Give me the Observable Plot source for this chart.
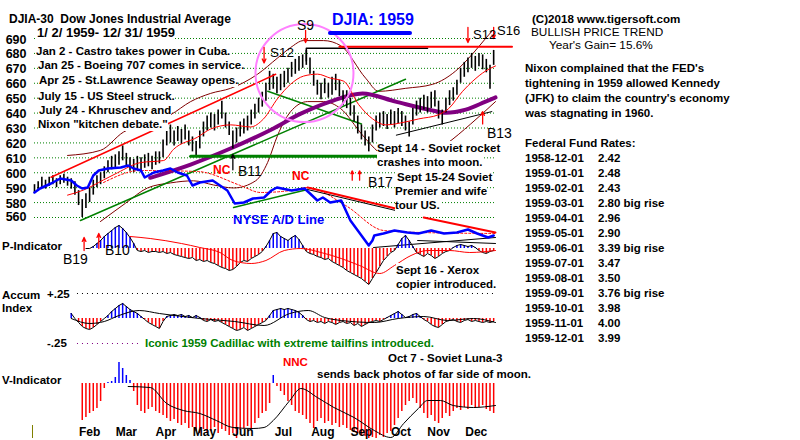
<!DOCTYPE html>
<html><head><meta charset="utf-8">
<script src="https://cdn.jsdelivr.net/npm/d3@7"></script>
<script src="https://cdn.jsdelivr.net/npm/@observablehq/plot@0.6"></script>
<style>
body{margin:0;background:#fff;}
#wrap{position:relative;width:800px;height:440px;overflow:hidden;background:#fff;font-family:"Liberation Sans",Arial,Helvetica,sans-serif;}
.t{position:absolute;white-space:pre;font-weight:bold;font-size:11.5px;line-height:14px;color:#000;}
</style></head><body><div id="wrap"></div>
<script>
// ---------------- DATA ----------------
const priceTicks = [690,680,670,660,650,640,630,620,610,600,590,580,570];
const priceTickLabels = ["690","680","670","660","650","640","630","620","610","600","590","580","560"];

// DJIA daily bars, every 2nd trading day of 1959 (trading day 0 = Jan 2)
const barLo = [586,588,590,589,591,592,590,592,593,591,
589,585,578,570,576,580,585,590,592,596,
600,602,603,605,608,604,601,600,602,600,
603,604,602,605,606,610,618,620,618,621,
619,622,618,614,611,616,624,628,630,628,
632,636,630,625,616,620,624,626,628,632,
636,640,644,648,655,656,653,655,657,660,
664,666,668,670,672,666,658,652,649,653,
650,652,655,651,645,643,638,634,626,622,
618,614,620,628,630,631,629,632,630,633,
631,628,624,632,638,640,642,640,643,644,
636,632,640,645,648,652,660,664,667,670,
668,671,669,667,656,672];
const barHi = [592,594,597,595,597,598,596,598,599,597,
596,594,588,582,586,590,595,598,600,604,
608,611,612,614,618,613,610,609,611,610,
612,613,611,614,614,622,630,632,628,631,
629,632,628,624,621,628,634,638,640,639,
642,648,640,634,628,630,634,636,638,642,
646,650,654,660,668,666,664,666,668,670,
674,676,678,679,682,677,668,662,660,663,
660,664,666,662,655,655,650,645,638,632,
628,624,632,638,640,641,639,642,641,643,
641,638,634,643,648,650,652,651,654,655,
648,642,650,655,657,662,670,674,677,680,
678,680,679,676,672,682];

// moving averages / bands  [trading day, DJIA]
const purpleMA = [[63,596.6],[85,605.5],[107,616.4],[128.5,628.7],[145,639.6],[161,647.7],[178.6,653.2],[196.6,647.7],[214.6,642.3],[224,640.2],[234.8,642.3],[245.6,647.7],[251,650.5]];
const redMA = [[18,585],[26.7,588.4],[37.6,595.2],[45.2,600],[57.7,606.8],[70.3,608.2],[75.7,615.7],[88.8,623.9],[95.9,629.3],[106.8,632.1],[117.6,630.7],[124.7,636.1],[132.4,649.8],[139.4,659.3],[146.5,664.8],[154.1,666.1],[161.2,663.4],[168.3,661.4],[176.5,645.7],[184.1,636.1],[191.2,632.1],[202.1,634.1],[209.2,636.1],[220,638.9],[225.5,643],[233.1,654.6],[238.6,661.4],[245.6,668.2],[251,671.6]];
const upperBand = [[18,611.6],[35.9,615],[48.5,627.3],[57.7,632.1],[74.1,638.9],[85,647.7],[95.9,653.2],[106.8,656.6],[121.5,666.1],[132.4,677],[139.4,683.9],[146.5,688.6],[157.4,688.6],[166.7,685.2],[180.3,663.4],[187.4,654.6],[202.1,656.6],[216.8,659.3],[229.3,668.2],[238.6,679.8],[245.6,690],[249.5,695.5]];
const lowerBand = [[35.9,567.3],[49.6,579.6],[61.5,589.8],[74.1,593.2],[86.6,594.6],[97.5,591.8],[108.4,589.8],[120.4,594.6],[126.9,606.8],[132.4,625.2],[139.4,640.9],[148.7,647.7],[157.4,647.7],[166.7,643],[178.6,625.2],[187.4,613.7],[196.6,606.8],[210.2,610.2],[223.9,619.1],[237.5,632.7],[251,647.7]];
// trend lines [day, DJIA]
const redTrend = [[9,597],[131.3,666]];
const greenSupport = [[25,568],[202,662.7]];
const greenDown = [[127,654.6],[178,632.7]];
const greenFlat = [[85,611],[188,611]];
const blackTop = [[148,675],[148,683.5],[214,683.5]];
const redTop = [[166,684.5],[260,684.5]];
const blackRise = [[197,625.2],[249,641]];
const circleAt = [{i:147, v:666.8}];
// signal arrows [day, from, to]
const redSignals = [[147.6,695.5,687.3],[125,684,673.6],[236,697.5,687.3],[250,697.5,690],[173,595,601.3],[177,595,601.3],[244,632.7,641]];
const blackSignals = [[108,602,612.3]];

// NYSE A/D line [day, A/D (arbitrary units)]
const adLine = [[0,58],[3,62],[9,67],[14,72],[20,70],[23,65],[26,62],[29,63],[32,75],[35,80],[40,82],[47,83],[51,85],[54,82],[58,80],[60,73],[65,78],[70,80],[74,82],[78,78],[83,75],[86,65],[90,68],[97,70],[105,60],[109,47],[114,48],[119,52],[125,53],[129,60],[132,63],[140,60],[147,62],[150,57],[154,50],[157,53],[161,48],[167,50],[172,30],[176,20],[182,5],[184,10],[185,15],[190,17],[196,20],[203,18],[209,17],[216,20],[223,17],[230,18],[236,21],[241,17],[247,13],[250,15]];
const adMA = [[37.6,68],[57.7,80],[88.8,79],[112.2,65],[123.1,58],[139.4,60],[148.7,63],[169.4,45],[190.1,20],[210.2,18],[251,17]];
const adRedA = [[148.7,63],[196.6,42]];
const adBlackA = [[148.7,61],[196.6,40]];
const adRedB = [[211.9,33],[251,18]];
const adBlackB = [[184.6,3],[251,13]];
const adBlackC = [[208.6,10],[251,7]];
const adGreen = [[108.4,43],[148.7,61]];

// P-Indicator (every 2nd day from day 28)
const pStart = 28;
const pVals = [0,0,2,5,8,12,15,18,21,23,
20,16,11,5,-2,-3,-2,-4,-3,-3,
-4,-3,-5,-4,-6,-7,-8,-9,-10,-9,
-12,-11,-13,-12,-14,-15,-17,-19,-20,-22,
-21,-18,-14,-12,-13,-10,-8,-6,-3,2,
8,15,16,12,10,8,11,13,9,3,
-3,-5,-6,-8,-9,-11,-10,-13,-15,-17,
-19,-22,-24,-26,-28,-30,-33,-36,-30,-24,
-18,-12,-8,-4,-2,4,10,13,8,2,
-4,-6,-8,-5,-7,-10,-8,-5,-3,-2,
1,3,4,3,2,3,1,-2,-4,-5,
-3,-2];
const pMA = [[52,12],[63,10],[80,5],[90,1],[101,-4],[108,-12],[118,-15],[126,-12],[136,-2],[145,0],[156,-4],[167,-10],[177,-17],[188,-25],[196,-17],[205,-7],[214,-2],[226,-2],[237,-4],[251,-2]];
const pSignals = [[27,-2,11],[35,0,15]];

// Accumulation Index (every 2nd day from day 20)
const aiStart = 20;
const aiVals = [0.05,0,-0.04,-0.08,-0.10,-0.11,-0.09,-0.06,-0.03,0,
0.03,0.07,0.10,0.13,0.15,0.12,0.09,0.07,0.05,0.02,
-0.01,-0.04,-0.06,-0.08,-0.10,-0.03,0.02,0.03,0.04,0.03,
0.04,0.02,0.03,0.01,0.03,0.01,-0.02,-0.03,-0.01,-0.03,
-0.02,-0.04,-0.06,-0.08,-0.10,-0.12,-0.11,-0.09,-0.12,-0.10,
-0.08,-0.06,-0.04,-0.02,0.03,0.08,0.09,0.10,0.09,0.10,
0.09,0.08,0.06,0.03,-0.01,-0.03,-0.02,-0.04,-0.03,-0.05,
-0.03,-0.04,-0.06,-0.04,-0.03,-0.05,-0.04,-0.07,-0.05,-0.08,
-0.06,-0.04,-0.03,-0.02,-0.03,-0.01,0.01,0.03,0.05,0.07,
0.04,0.01,0.02,0.04,0.05,0.02,-0.01,-0.03,-0.06,-0.08,
-0.09,-0.06,-0.03,-0.02,-0.01,-0.03,-0.04,-0.02,-0.01,-0.03,
-0.02,-0.03,-0.04,-0.03,-0.04,-0.03];
const aiMA = [[20,0],[30,-0.05],[38,-0.03],[46,0.03],[57,0.08],[68,0.05],[90,0],[109,-0.03],[125,-0.07],[139,0.05],[149,0.08],[158,0.01],[167,-0.02],[185,-0.04],[198,0],[212,0.02],[225,-0.02],[239,0],[251,-0.04]];

// V-Indicator (every 2nd day from day 26)
const vStart = 26;
const vVals = [-37,-34,-30,-28,-25,-18,-5,1,2,6,
21,15,8,3,-8,-22,-28,-30,-26,-24,
-28,-30,-32,-35,-38,-36,-40,-42,-40,-45,
-44,-48,-50,-46,-50,-48,-44,-50,-46,-48,
-52,-50,-55,-47,-45,-43,-46,-40,-35,-30,
-28,-20,8,-3,-8,-12,-18,-22,-28,-30,
-32,-36,-40,-45,-38,-35,-40,-38,-42,-40,
-44,-42,-45,-47,-48,-50,-52,-53,-55,-54,
-55,-52,-54,-50,-48,-42,-35,-28,-22,-18,
-15,-20,-25,-30,-35,-32,-38,-40,-35,-30,
-33,-28,-25,-27,-24,-26,-22,-25,-24,-22,
-26,-28,-30];
const vMA = [[51,-3],[63,-4],[72,-20],[81,-27],[90,-30],[99,-37],[108,-44],[119,-45],[125,-44],[130,-37],[139,-17],[145,-5],[154,-14],[163,-24],[174,-34],[185,-47],[194,-54],[201,-40],[209,-25],[214,-17],[221,-17],[228,-22],[239,-24],[251,-22]];

// months (first trading day index)
const monthNames = ["Feb","Mar","Apr","May","Jun","Jul","Aug","Sep","Oct","Nov","Dec"];
const monthStartDay = [21,40,61,83,103,125,147,168,189,211,230];
const lastDay = 251;

// text
const events = ["Jan 2 - Castro takes power in Cuba.","Jan 25 - Boeing 707 comes in service.","Apr 25 - St.Lawrence Seaway opens.","July 15 - US Steel struck.","July 24 - Khruschev and","Nixon \"kitchen debate.\""];
const nixonNote = ["Nixon complained that the FED's","tightening in 1959 allowed Kennedy","(JFK) to claim the country's economy","was stagnating in 1960."];
const fedDates = ["1958-12-01","1959-01-01","1959-02-01","1959-03-01","1959-04-01","1959-05-01","1959-06-01","1959-07-01","1959-08-01","1959-09-01","1959-10-01","1959-11-01","1959-12-01"];
const fedRates = ["2.42","2.48","2.43","2.80","2.96","2.90","3.39","3.47","3.50","3.76","3.98","4.00","3.99"];
const fedNotes = ["","","","big rise","","","big rise","","","big rise","","",""];

// ---------------- DRAW ----------------
const FONT = '"Liberation Sans", Arial, Helvetica, sans-serif';
const wrap = document.getElementById("wrap");
const X = {domain: [0, lastDay], axis: null};
const ST = {background: "transparent", overflow: "visible", fontFamily: FONT};
const P = arr => arr.map(([i, v]) => ({i, v}));
const M = {width: 800, marginLeft: 34, marginRight: 305};
function place(svg, top) {
  svg.style.position = "absolute"; svg.style.left = "0px"; svg.style.top = top + "px";
  wrap.appendChild(svg);
}
const ln = (arr, o) => Plot.line(P(arr), {x: "i", y: "v", ...o});

// price panel
const bars = barLo.map((lo, k) => ({i: k * 2, lo, hi: barHi[k]}));
const ticks = priceTicks.map((v, k) => ({v, label: priceTickLabels[k], last: k === priceTicks.length - 1}));
const arrows = (arr, color) => Plot.arrow(arr.map(([i, a, b]) => ({i, a, b})), {x1: "i", x2: "i", y1: "a", y2: "b", stroke: color, strokeWidth: 1.3, headLength: 5, headAngle: 50});

place(Plot.plot({
  ...M, height: 250, marginTop: 38, marginBottom: 33,
  x: X, y: {domain: [570, 690], axis: null}, style: ST,
  marks: [
    Plot.ruleY(ticks, {y: "v", x1: 0, x2: lastDay, stroke: "#008000", strokeDasharray: "1,2"}),
    Plot.text(ticks.filter(d => !d.last), {x: 0, y: "v", text: "label", textAnchor: "end", dx: -8, dy: 1, fontWeight: "bold", fontSize: 12.5, fill: "black"}),
    Plot.text(ticks.filter(d => d.last), {x: 0, y: "v", text: "label", textAnchor: "end", dx: -8, dy: -1, fontWeight: "bold", fontSize: 12.5, fill: "black"}),
    ln(lowerBand, {stroke: "#800000", strokeWidth: 1, curve: "monotone-x"}),
    ln(upperBand, {stroke: "#800000", strokeWidth: 1, curve: "monotone-x"}),
    ln(greenSupport, {stroke: "#008000", strokeWidth: 1.5}),
    ln(greenDown, {stroke: "#008000", strokeWidth: 1.5}),
    ln(blackRise, {stroke: "black", strokeWidth: 1}),
    ln(purpleMA, {stroke: "#800080", strokeWidth: 4, curve: "monotone-x"}),
    Plot.ruleX(bars, {x: "i", y1: "lo", y2: "hi", stroke: "black", strokeWidth: 1.6}),
    ln(redMA, {stroke: "#ff0000", strokeWidth: 1, curve: "monotone-x"}),
    ln(redTrend, {stroke: "#ff0000", strokeWidth: 1.5}),
    ln(greenFlat, {stroke: "#008000", strokeWidth: 3}),
    ln(blackTop, {stroke: "black", strokeWidth: 1.5}),
    ln(redTop, {stroke: "#ff0000", strokeWidth: 2}),
    Plot.dot(circleAt, {x: "i", y: "v", r: 49, stroke: "#ff80ff", strokeWidth: 2, fill: "none"}),
    arrows(redSignals, "#ff0000"),
    arrows(blackSignals, "black")
  ]
}), 0);

// NYSE A/D line overlay
place(Plot.plot({
  ...M, height: 250, marginTop: 150, marginBottom: 0,
  x: X, y: {domain: [0, 100], axis: null}, style: ST,
  marks: [
    ln(adMA, {stroke: "#ff0000", strokeWidth: 1, strokeDasharray: "2,2", curve: "monotone-x"}),
    ln(adGreen, {stroke: "#008000", strokeWidth: 1.5}),
    ln(adBlackA, {stroke: "black", strokeWidth: 1}),
    ln(adRedA, {stroke: "#ff0000", strokeWidth: 2}),
    ln(adBlackB, {stroke: "black", strokeWidth: 1}),
    ln(adBlackC, {stroke: "black", strokeWidth: 1}),
    ln(adRedB, {stroke: "#ff0000", strokeWidth: 2}),
    ln(adLine, {stroke: "#0000ff", strokeWidth: 2.5})
  ]
}), 0);

// P-Indicator
const pData = pVals.map((v, k) => ({i: pStart + 2 * k, v}));
place(Plot.plot({
  ...M, height: 90, marginTop: 8, marginBottom: 12,
  x: X, y: {domain: [-40, 30], axis: null}, color: {type: "identity"}, style: ST,
  marks: [
    Plot.ruleX(pData, {x: "i", y1: 0, y2: "v", stroke: d => d.v >= 0 ? "#0000ff" : "#ff0000", strokeWidth: 1.5}),
    Plot.line(pData, {x: "i", y: "v", stroke: "black", strokeWidth: 1}),
    ln(pMA, {stroke: "#ff0000", strokeWidth: 1, curve: "monotone-x"}),
    arrows(pSignals, "#ff0000")
  ]
}), 210);

// Accumulation Index
const aiData = aiVals.map((v, k) => ({i: aiStart + 2 * k, v}));
place(Plot.plot({
  ...M, height: 75, marginTop: 8, marginBottom: 7,
  x: X, y: {domain: [-0.3, 0.3], axis: null}, color: {type: "identity"}, style: ST,
  marks: [
    Plot.ruleY([0.25], {x1: 23.4, x2: lastDay, stroke: "black", strokeDasharray: "1,4"}),
    Plot.ruleY([-0.25], {x1: 23.4, x2: 57, stroke: "#800080", strokeDasharray: "1,4"}),
    Plot.ruleX(aiData, {x: "i", y1: 0, y2: "v", stroke: d => d.v >= 0 ? "#0000ff" : "#ff0000", strokeWidth: 1.5}),
    Plot.line(aiData, {x: "i", y: "v", stroke: "black", strokeWidth: 1}),
    ln(aiMA, {stroke: "black", strokeWidth: 1, curve: "monotone-x"})
  ]
}), 280);

// V-Indicator + month labels
const vData = vVals.map((v, k) => ({i: vStart + 2 * k, v}));
const months = monthNames.map((name, k) => ({name, mid: (monthStartDay[k] + (k + 1 < monthStartDay.length ? monthStartDay[k + 1] - 1 : lastDay)) / 2}));
place(Plot.plot({
  ...M, height: 90, marginTop: 3, marginBottom: 0,
  x: X, y: {domain: [-57, 30], axis: null}, color: {type: "identity"}, style: ST,
  marks: [
    Plot.ruleX(vData, {x: "i", y1: 0, y2: "v", stroke: d => d.v >= 0 ? "#0000ff" : "#ff0000", strokeWidth: 1.5}),
    ln(vMA, {stroke: "black", strokeWidth: 1, curve: "monotone-x"}),
    Plot.text(months, {x: "mid", text: "name", frameAnchor: "bottom", dy: -5, fontWeight: "bold", fontSize: 12, fill: "black"})
  ]
}), 350);

// ---------------- TEXT ----------------
function txt(s, x, cy, o = {}) {
  const d = document.createElement("div");
  d.className = "t";
  d.textContent = s;
  d.style.fontSize = (o.size || 11.5) + "px";
  d.style.left = x + "px";
  d.style.top = (cy - 7) + "px";
  if (o.color) d.style.color = o.color;
  if (o.weight) d.style.fontWeight = o.weight;
  if (o.bg) d.style.background = "#fff";
  wrap.appendChild(d);
  return d;
}
txt("DJIA-30  Dow Jones Industrial Average", 9, 18.5, {size: 12});
txt("1/ 2/ 1959- 12/ 31/ 1959", 37, 33, {size: 13, bg: 1});
const evY = [51, 65, 80, 96, 109.5, 123.5], evX = [36, 38, 39, 38, 39, 38];
events.forEach((e, k) => txt(e, evX[k], evY[k], {bg: 1}));
txt("S9", 297, 25, {size: 14, weight: "normal"});
txt("S12", 270, 53, {size: 13.5, weight: "normal"});
txt("DJIA: 1959", 332, 20, {size: 16, color: "#0000ff"});
const bar = document.createElement("div");
Object.assign(bar.style, {position: "absolute", left: "328px", top: "31px", width: "84px", height: "4px", background: "#0000ff", borderRadius: "2px"});
wrap.appendChild(bar);
txt("S12", 473, 35, {size: 13, weight: "normal"});
txt("S16", 497, 31, {size: 13, weight: "normal"});
txt("(C)2018 www.tigersoft.com", 532, 18.5, {size: 11.6});
txt("BULLISH PRICE TREND", 531, 31.5, {size: 11.8, weight: "normal"});
txt("Year's Gain= 15.6%", 549, 44.5, {size: 11.8, weight: "normal"});
nixonNote.forEach((s, k) => txt(s, 525, 68 + 15 * k));
txt("Federal Fund Rates:", 525, 143);
fedDates.forEach((d, k) => {
  txt(d, 525, 158 + 15 * k);
  txt(fedRates[k] + (fedNotes[k] ? " " + fedNotes[k] : ""), 598, 158 + 15 * k);
});
txt("NC", 213, 170, {size: 12, color: "#ff0000"});
txt("B11", 238, 171, {size: 14, weight: "normal"});
txt("NC", 292, 176, {size: 12, color: "#ff0000"});
txt("B17", 368, 182, {size: 14, weight: "normal"});
txt("B13", 487, 133, {size: 14, weight: "normal"});
txt("Sept 14 - Soviet rocket", 377, 148, {bg: 1});
txt("crashes into moon.", 377, 162, {bg: 1});
txt("Sept 15-24 Soviet", 397, 177, {bg: 1});
txt("Premier and wife", 395, 191, {bg: 1});
txt("tour US.", 395, 205, {bg: 1});
txt("NYSE A/D Line", 233, 220, {size: 13, color: "#0000ff"});
txt("P-Indicator", 2, 246);
txt("B19", 63, 259, {size: 14, weight: "normal"});
txt("B10", 105, 250, {size: 14, weight: "normal"});
txt("Sept 16 - Xerox", 396, 270, {bg: 1});
txt("copier introduced.", 396, 284, {bg: 1});
txt("Accum", 2, 295);
txt("Index", 2, 308);
txt("+.25", 47, 294);
txt("-.25", 47, 343);
txt("Iconic 1959 Cadillac with extreme tailfins introduced.", 145, 343, {color: "#008000"});
txt("NNC", 283, 362, {color: "#ff0000"});
txt("Oct 7 - Soviet Luna-3", 388, 358);
txt("sends back photos of far side of moon.", 317, 374);
txt("V-Indicator", 2, 380);
const olive = document.createElement("div");
Object.assign(olive.style, {position: "absolute", left: "32px", top: "425px", width: "1px", height: "13px", background: "#808000"});
wrap.appendChild(olive);
</script></body></html>
